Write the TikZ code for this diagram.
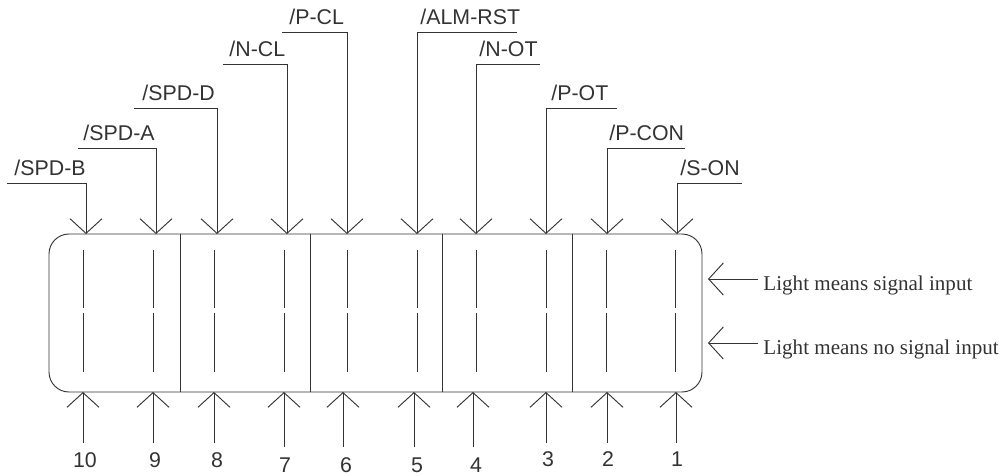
\documentclass[tikz,border=0pt]{standalone}
\usepackage{fontspec}
\setmainfont{Liberation Serif}
\setsansfont{Liberation Sans}
\usetikzlibrary{arrows.meta}
\definecolor{ledgray}{RGB}{51,51,51}
\tikzset{
  pin arrow/.style={-{Straight Barb[length=11pt,width=24pt]}},
  pin label/.style={font=\sffamily\fontsize{16}{19}\selectfont, text=ledgray, inner sep=0pt},
  hint label/.style={font=\fontsize{15.8}{18}\selectfont, text=ledgray, inner xsep=3.75pt, inner ysep=0pt}
}

\begin{document}
\begin{tikzpicture}[x=0.75pt, y=-0.75pt, line width=0.7pt, draw=ledgray]
  \useasboundingbox (0,0) rectangle (1006,475);

  % Display body
  \draw[rounded corners=15pt] (49,234) rectangle (702,392);
  \foreach \x in {180,310,442,572}
    \draw (\x,234) -- (\x,392);

  % LED segments
  \foreach \x in {83,153,214,284,347,417,476,546,606,675} {
    \draw (\x,250) -- (\x,308);
    \draw (\x,313) -- (\x,372);
  }

  % Signal names (top)
  \foreach \i/\txt/\xs/\xe/\xa/\y/\tx in {
      1/SPD-B/7/86/86/183/14,
      2/SPD-A/78/156/156/148/83,
      3/SPD-D/134/217/217/108/142,
      4/N-CL/223/287/287/64/229,
      5/P-CL/282/347/347/32/289,
      6/ALM-RST/417/517/417/32/420,
      7/N-OT/476/540/476/64/479,
      8/P-OT/546/617/546/108/551,
      9/P-CON/607/685/607/148/609,
      10/S-ON/677/742/677/183/680} {
    \node[pin label, anchor=base west] (sig\i) at (\tx,\y-8) {/\txt};
    \coordinate (elb\i) at (\xa,\y);
    \coordinate (top\i) at (\xa,234);
    \draw (\xs,\y) -- (\xe,\y);
    \draw[pin arrow] (elb\i) -- (top\i);
  }

  % Pin numbers (bottom)
  \foreach \n/\x/\nx/\ly/\ay in {
      10/83/85/460/443, 9/153/155/460/443, 8/214/217/460/443,
      7/284/285/465/447, 6/343/346/465/447, 5/414/417/465/447,
      4/473/476/465/447, 3/546/548/459/443, 2/607/608/459/443,
      1/676/677/459/443} {
    \node[pin label] (num\n) at (\nx,\ly) {\n};
    \coordinate (tail\n) at (\x,\ay);
    \coordinate (bot\n) at (\x,392);
    \draw[pin arrow] (tail\n) -- (bot\n);
  }

  % Legend
  \node[hint label, anchor=base west] (hinton) at (758,290) {Light means signal input};
  \node[hint label, anchor=base west] (hintoff) at (758,354) {Light means no signal input};
  \coordinate (ledon) at (708,279);
  \coordinate (ledoff) at (708,343);
  \draw[pin arrow] (hinton.west |- ledon) -- (ledon);
  \draw[pin arrow] (hintoff.west |- ledoff) -- (ledoff);
\end{tikzpicture}
\end{document}
